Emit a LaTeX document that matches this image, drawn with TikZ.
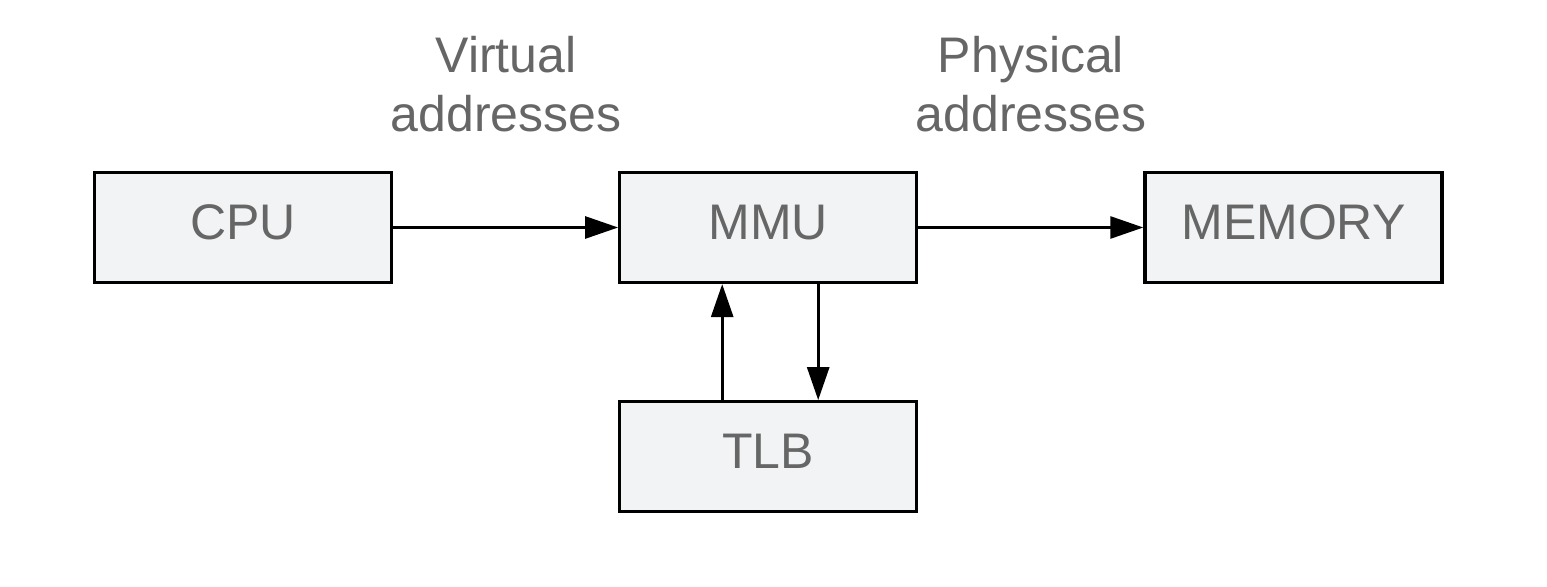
\documentclass[tikz,border=0pt]{standalone}
\usepackage{fontspec}
\setmainfont{Liberation Sans}
\usetikzlibrary{positioning}
\usetikzlibrary{arrows.meta}

\definecolor{boxfill}{HTML}{F2F3F5}
\definecolor{textgray}{HTML}{666666}

\begin{document}
\begin{tikzpicture}[x=0.5pt,y=-0.5pt,
  unit/.style={draw=black,line width=1.6pt,fill=boxfill,text=textgray,
    minimum width=148.5pt,minimum height=55pt,inner sep=0pt,
    text height=18pt,text depth=6pt,
    font=\fontsize{25}{28}\selectfont},
  lbl/.style={text=textgray,align=center,inner sep=0pt,
    font=\fontsize{25}{29.5}\selectfont},
  link/.style={line width=1.4pt,-{Triangle[length=16.5pt,width=11pt]}}]
\useasboundingbox (0,0) rectangle (1547,587);
\def\gap{112.5pt}

\node[unit] (cpu) at (243,227.5) {CPU};
\node[unit,right=\gap of cpu] (mmu) {MMU};
\node[unit,right=\gap of mmu] (mem) {MEMORY};
\node[unit,below=58pt of mmu] (tlb) {TLB};

\draw[link] (cpu.east) -- (mmu.west);
\draw[link] (mmu.east) -- (mem.west);
\draw[link] ([xshift=-23pt]tlb.north) -- ([xshift=-23pt]mmu.south);
\draw[link] ([xshift=25pt]mmu.south) -- ([xshift=25pt]tlb.north);

\node[lbl] (va) at (506,84) {Virtual\\addresses};
\node[lbl] (pa) at (1031,84) {Physical\\addresses};
\end{tikzpicture}
\end{document}
